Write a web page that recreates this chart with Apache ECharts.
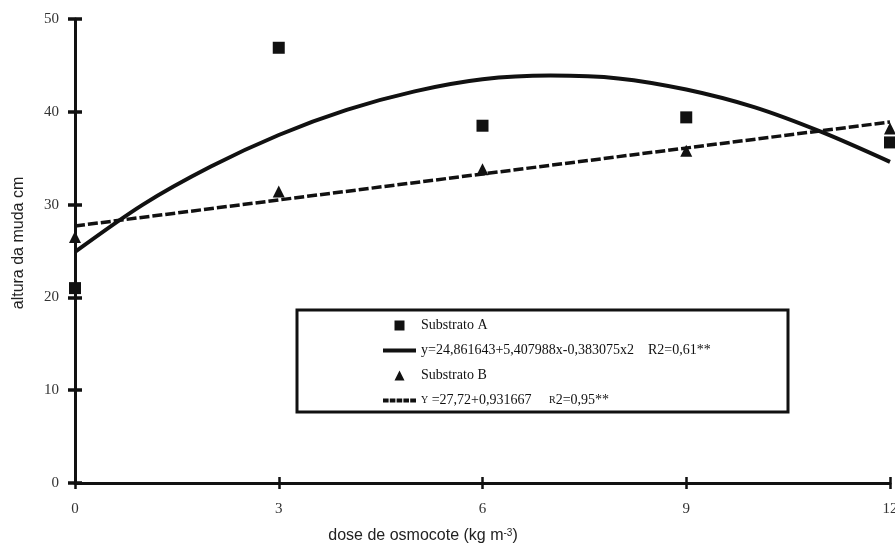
<!DOCTYPE html>
<html>
<head>
<meta charset="utf-8">
<script src="https://cdn.jsdelivr.net/npm/echarts@6/dist/echarts.min.js"></script>
<style>
  html, body { margin: 0; padding: 0; background: #fff; }
  #chart { width: 895px; height: 546px; }
</style>
</head>
<body>
<div id="chart"></div>
<script>
// pontos observados
var doseX = [0, 3, 6, 9, 12];
var substratoA = [21.0, 46.9, 38.5, 39.4, 36.7];
var substratoB = [26.5, 31.4, 33.8, 35.8, 38.2];

// curva ajustada A
var curvaX = [0, 1, 2, 3, 4, 5, 6, 7, 8, 9, 10, 11, 12];
var curvaA = [24.9, 30.0, 34.1, 37.5, 40.2, 42.2, 43.5, 43.9, 43.6, 42.4, 40.5, 37.8, 34.6];

// reta ajustada B
var retaX = [0, 12];
var retaB = [27.7, 38.9];

var nomeA = 'Substrato A';
var nomeCurva = 'y=24,861643+5,407988x-0,383075x2    R2=0,61**';
var nomeB = 'Substrato B';
var nomeReta = 'y=27,72+0,931667     R2=0,95**';

var serif = 'Liberation Serif';
var sans = 'Liberation Sans';

// icones da legenda: linha cheia e tracejada
var iconeCheia = 'path://M0,0H33V4H0Z';
var iconeTracejada = 'path://M0,0H5.6V4H0Z M6.8,0H12.4V4H6.8Z M13.6,0H19.2V4H13.6Z M20.4,0H26V4H20.4Z M27.2,0H33V4H27.2Z';

function pares(xs, ys) {
  var out = [];
  for (var i = 0; i < xs.length; i++) {
    out.push([xs[i], ys[i]]);
  }
  return out;
}

function initChart() {
  var option = {
    animation: false,
    backgroundColor: '#fff',
    grid: {
      left: 75,
      right: 5,
      top: 19,
      bottom: 63,
      outerBoundsMode: 'none'
    },
    xAxis: [{
      type: 'value',
      min: 0,
      max: 12,
      interval: 3,
      splitLine: { show: false },
      axisLine: { lineStyle: { color: '#111', width: 3 } },
      axisTick: { length: 6, lineStyle: { color: '#111', width: 2.5 } },
      axisLabel: { margin: 19, color: '#333', fontFamily: serif, fontSize: 15 }
    }, {
      // marcas para dentro (cruz)
      type: 'value',
      position: 'bottom',
      min: 0,
      max: 12,
      interval: 3,
      splitLine: { show: false },
      axisLine: { show: false },
      axisTick: { inside: true, length: 6, lineStyle: { color: '#111', width: 2.5 } },
      axisLabel: { show: false }
    }],
    yAxis: [{
      type: 'value',
      min: 0,
      max: 50,
      interval: 10,
      splitLine: { show: false },
      axisLine: { show: true, lineStyle: { color: '#111', width: 3 } },
      axisTick: { show: true, length: 7, lineStyle: { color: '#111', width: 3.5 } },
      axisLabel: { margin: 16, color: '#333', fontFamily: serif, fontSize: 15 }
    }, {
      type: 'value',
      position: 'left',
      min: 0,
      max: 50,
      interval: 10,
      splitLine: { show: false },
      axisLine: { show: false },
      axisTick: { show: true, inside: true, length: 7, lineStyle: { color: '#111', width: 3.5 } },
      axisLabel: { show: false }
    }],
    legend: {
      orient: 'vertical',
      left: 378,
      top: 313,
      itemWidth: 33,
      itemHeight: 10,
      itemGap: 10,
      selectedMode: false,
      data: [
        { name: nomeA, icon: 'path://M0,0H10V10H0Z' },
        { name: nomeCurva, icon: iconeCheia },
        { name: nomeB, icon: 'path://M5,0L10,10H0Z' },
        { name: nomeReta, icon: iconeTracejada }
      ],
      textStyle: {
        fontFamily: serif,
        fontSize: 14,
        lineHeight: 15,
        color: '#111',
        rich: {
          sc: { fontFamily: serif, fontSize: 10, color: '#111' }
        }
      },
      formatter: function (name) {
        if (name === nomeReta) {
          return '{sc|Y} =27,72+0,931667     {sc|R}2=0,95**';
        }
        return name;
      }
    },
    graphic: [{
      type: 'rect',
      z: 1,
      shape: { x: 297, y: 310, width: 491, height: 102 },
      style: { fill: '#fff', stroke: '#111', lineWidth: 3 }
    }, {
      type: 'text',
      x: 19,
      y: 243,
      rotation: Math.PI / 2,
      style: {
        text: 'altura da muda cm',
        font: '16px "Liberation Sans"',
        fill: '#222',
        align: 'center',
        verticalAlign: 'middle'
      }
    }, {
      type: 'text',
      x: 423,
      y: 536,
      style: {
        text: 'dose de osmocote (kg m{sup|-3})',
        fontFamily: sans,
        fontSize: 16,
        fill: '#222',
        align: 'center',
        verticalAlign: 'middle',
        rich: {
          sup: { fontFamily: sans, fontSize: 10, verticalAlign: 'top', fill: '#222' }
        }
      }
    }],
    series: [{
      name: nomeA,
      type: 'scatter',
      data: pares(doseX, substratoA),
      symbol: 'rect',
      symbolSize: 12,
      itemStyle: { color: '#111', opacity: 1 },
      z: 5
    }, {
      name: nomeCurva,
      type: 'line',
      data: pares(curvaX, curvaA),
      smooth: 0.3,
      symbol: 'none',
      lineStyle: { color: '#111', width: 4 },
      itemStyle: { color: '#111' }
    }, {
      name: nomeB,
      type: 'scatter',
      data: pares(doseX, substratoB),
      symbol: 'triangle',
      symbolSize: 12,
      itemStyle: { color: '#111', opacity: 1 },
      z: 5
    }, {
      name: nomeReta,
      type: 'line',
      data: pares(retaX, retaB),
      symbol: 'none',
      lineStyle: { color: '#111', width: 3.5, type: [10, 3] },
      itemStyle: { color: '#111' }
    }]
  };
  var myChart = echarts.init(document.getElementById('chart'));
  myChart.setOption(option);
}

initChart();
</script>
</body>
</html>
